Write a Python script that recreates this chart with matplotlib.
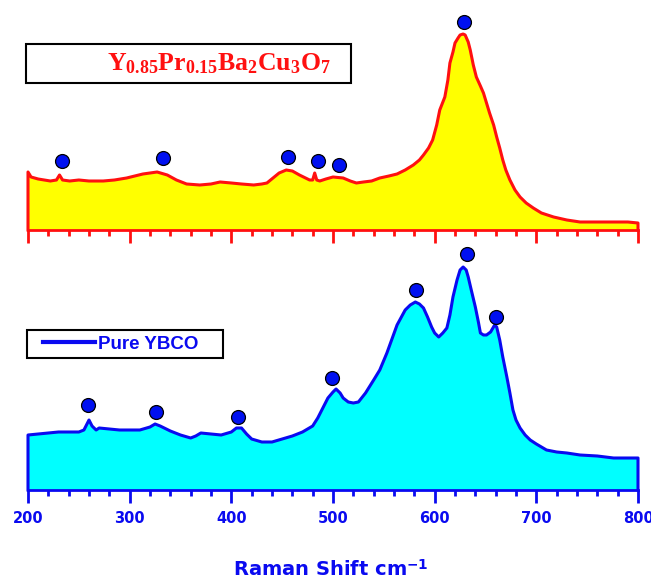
import matplotlib
matplotlib.use("Agg")
import matplotlib.pyplot as plt
from matplotlib.patches import Rectangle
from matplotlib.ticker import MultipleLocator

plt.rcParams['mathtext.fontset'] = 'custom'
plt.rcParams['mathtext.rm'] = 'Liberation Serif:bold'
plt.rcParams['mathtext.it'] = 'Liberation Serif:italic'
plt.rcParams['mathtext.bf'] = 'DejaVu Sans:bold'

# ---- data (Raman shift in cm^-1, intensity in arbitrary units) ----
x_doped = [200, 203, 210, 222, 228, 231, 234, 241, 250, 260, 274, 285, 297, 305, 313, 320,
           327, 337, 346, 356, 369, 380, 389, 400, 410, 422, 430, 435, 441, 447, 454, 460,
           467, 477, 480, 482, 484, 487, 493, 500, 510, 517, 523, 530, 538, 546, 555, 563,
           571, 579, 585, 589, 594, 598, 602, 605, 610, 613, 615, 618, 620, 623, 625, 628,
           630, 633, 635, 638, 641, 645, 648, 651, 654, 658, 661, 664, 667, 670, 674, 679,
           684, 690, 697, 705, 717, 730, 743, 760, 776, 790, 800]
y_doped = [58, 53, 51, 49, 50, 55, 50, 49, 50, 49, 49, 50, 52, 54, 56, 57,
           58, 55, 50, 46, 45, 46, 48, 47, 46, 45, 46, 47, 52, 57, 60, 59,
           55, 50, 50, 57, 50, 49, 51, 53, 52, 49, 47, 48, 49, 52, 54, 56,
           60, 65, 70, 75, 82, 90, 105, 120, 133, 150, 167, 178, 187, 192, 195, 196,
           195, 188, 180, 165, 153, 144, 137, 127, 117, 105, 93, 82, 70, 60, 50, 40,
           33, 27, 22, 17, 13, 10, 8, 8, 8, 8, 7]
peaks_doped_x = [233, 333, 456, 485, 506, 629]
peaks_doped_y = [69, 72, 73, 69, 65, 208]

x_pure = [200, 210, 220, 230, 240, 250, 255, 260, 263, 267, 270, 280, 290, 300, 310, 320,
          325, 330, 340, 350, 360, 365, 370, 380, 390, 400, 405, 410, 415, 420, 430, 440,
          450, 460, 470, 480, 485, 490, 495, 500, 503, 507, 510, 515, 520, 525, 532, 540,
          546, 553, 563, 571, 576, 581, 585, 589, 593, 597, 600, 604, 608, 612, 615, 618,
          622, 625, 628, 631, 633, 636, 640, 643, 645, 648, 651, 655, 659, 661, 664, 667,
          671, 674, 677, 680, 684, 689, 694, 700, 710, 720, 730, 743, 760, 776, 800]
y_pure = [55, 56, 57, 58, 58, 58, 60, 70, 64, 60, 62, 61, 60, 60, 60, 63,
          66, 64, 59, 55, 52, 54, 57, 56, 55, 58, 62, 62, 56, 51, 48, 48,
          51, 54, 58, 64, 72, 82, 92, 98, 101, 97, 92, 88, 87, 88, 97, 110,
          120, 137, 165, 180, 185, 188, 186, 182, 173, 163, 157, 153, 157, 162, 175, 193,
          210, 220, 223, 220, 213, 200, 183, 168, 157, 155, 155, 158, 165, 163, 150, 133,
          113, 97, 80, 70, 62, 55, 50, 46, 40, 38, 37, 35, 34, 32, 32]
peaks_pure_x = [259, 326, 407, 499, 582, 632, 660]
peaks_pure_y = [85, 78, 73, 112, 200, 236, 173]

doped_label = r'Y$_{0.85}$Pr$_{0.15}$Ba$_{2}$Cu$_{3}$O$_{7}$'
pure_label = 'Pure YBCO'
xlabel = r'Raman Shift cm$^{\mathbf{-1}}$'
xticks = [200, 300, 400, 500, 600, 700, 800]

RED = '#FF1010'
BLUE = '#0A0AF0'

W, H = 651, 581
fig = plt.figure(figsize=(W / 100, H / 100), dpi=100)


def rect(x0, y0, x1, y1):
    return [x0 / W, 1 - y1 / H, (x1 - x0) / W, (y1 - y0) / H]


ax1 = fig.add_axes(rect(28, 10, 638, 230))
ax2 = fig.add_axes(rect(28, 240, 638, 490))


def style(ax, color, ymax, labels):
    ax.set_xlim(200, 800)
    ax.set_ylim(0, ymax)
    for s in ['top', 'left', 'right']:
        ax.spines[s].set_visible(False)
    ax.spines['bottom'].set_color(color)
    ax.spines['bottom'].set_linewidth(2)
    ax.set_yticks([])
    ax.set_xticks(xticks)
    ax.xaxis.set_minor_locator(MultipleLocator(20))
    ax.tick_params(axis='x', which='major', direction='out', length=9, width=2, color=color,
                   pad=6, labelsize=10.5, labelcolor=color)
    ax.tick_params(axis='x', which='minor', direction='out', length=4.5, width=2, color=color)
    if not labels:
        ax.tick_params(axis='x', which='both', labelbottom=False)
    else:
        for t in ax.get_xticklabels():
            t.set_fontweight('bold')
    ax.patch.set_alpha(0)


# top panel
ax1.fill_between(x_doped, 0, y_doped, color='#FFFF00', lw=0)
ax1.plot([x_doped[0]] + x_doped + [x_doped[-1]], [0] + y_doped + [0], color=RED, lw=2.2,
         clip_on=False)
ax1.plot(peaks_doped_x, peaks_doped_y, 'o', ms=10, mfc='#0010F0', mec='black', mew=0.9,
         clip_on=False, zorder=5)
style(ax1, RED, 220, False)

# bottom panel
ax2.fill_between(x_pure, 0, y_pure, color='#00FFFF', lw=0)
line, = ax2.plot([x_pure[0]] + x_pure + [x_pure[-1]], [0] + y_pure + [0], color=BLUE, lw=2.2,
                 clip_on=False, label=pure_label)
ax2.plot(peaks_pure_x, peaks_pure_y, 'o', ms=10, mfc='#0010F0', mec='black', mew=0.9,
         clip_on=False, zorder=5)
style(ax2, BLUE, 250, True)
ax2.set_xlabel(xlabel, fontsize=14, fontweight='bold', color=BLUE)
ax2.xaxis.set_label_coords(331 / W, 1 - 559 / H, transform=fig.transFigure)

# bottom legend (frame drawn as a box around it)
ax2.add_patch(Rectangle((27 / W, 1 - 358 / H), (223 - 27) / W, (358 - 330) / H,
                        transform=fig.transFigure, facecolor='white', clip_on=False,
                        edgecolor='black', lw=1.5, zorder=9))
leg = ax2.legend(handles=[line], loc='center left', bbox_to_anchor=(43 / W, 1 - 344 / H),
                 bbox_transform=fig.transFigure, frameon=False, borderaxespad=0, borderpad=0,
                 handlelength=2.75, handletextpad=0.2,
                 prop={'family': 'Liberation Sans', 'size': 13.5, 'weight': 'bold'})
leg.set_zorder(11)
for t in leg.get_texts():
    t.set_color(BLUE)
for h in leg.get_lines():
    h.set_linewidth(3)

# top legend box
fig.patches.append(Rectangle((26 / W, 1 - 83 / H), (351 - 26) / W, (83 - 44) / H,
                             transform=fig.transFigure, facecolor='white',
                             edgecolor='black', lw=1.5, zorder=10))
fig.text(107 / W, 1 - 64 / H, doped_label, color=RED, fontsize=18.5, fontweight='bold',
         family='Liberation Serif', va='center', ha='left', zorder=11)

fig.savefig('out.png', dpi=100)
